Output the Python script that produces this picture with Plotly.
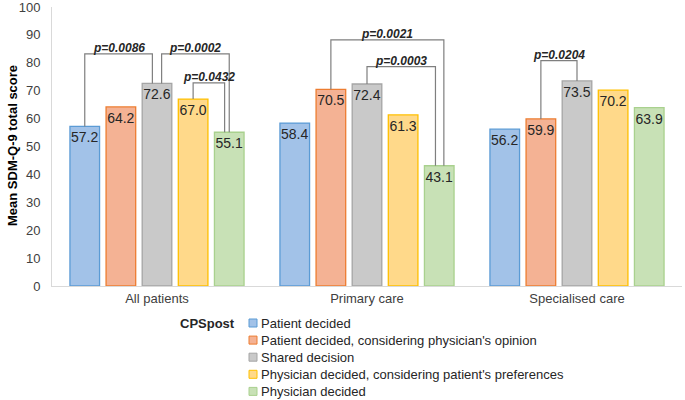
import plotly.graph_objects as go

categories = ["All patients", "Primary care", "Specialised care"]
series_names = [
    "Patient decided",
    "Patient decided, considering physician's opinion",
    "Shared decision",
    "Physician decided, considering patient's preferences",
    "Physician decided",
]
values = [
    [57.2, 58.4, 56.2],
    [64.2, 70.5, 59.9],
    [72.6, 72.4, 73.5],
    [67.0, 61.3, 70.2],
    [55.1, 43.1, 63.9],
]
y_ticks = [0, 10, 20, 30, 40, 50, 60, 70, 80, 90, 100]
# brackets: (category index, bar a, bar b, p-value label)
bracket_pairs = [
    (0, 0, 2, "p=0.0086"),
    (0, 2, 4, "p=0.0002"),
    (0, 3, 4, "p=0.0432"),
    (1, 1, 4, "p=0.0021"),
    (1, 2, 4, "p=0.0003"),
    (2, 1, 2, "p=0.0204"),
]
bracket_tops = [83.2, 83.2, 72.8, 88.2, 78.6, 80.8]

fills = ["#a2c2e8", "#f4b294", "#c9c9c9", "#ffd98a", "#c8e1b6"]
borders = ["#5b9bd5", "#ed7d31", "#a5a5a5", "#ffc000", "#a9d18e"]
leg_shift = [
    (0, -0.022), (0.022, 0.0), (0.0, -0.022),
    (0.0, 0.022), (0.0, -0.018), (0.0, 0.0),
]

BARGAP = 0.14
GROUPGAP = 0.18
N = len(series_names)
slot = (1 - BARGAP) / N

# plot area geometry (px)
PL, PR, PT, PB = 52, 682, 7, 286
PW, PH = PR - PL, PB - PT


def px_to_paper_x(px):
    return (px - PL) / PW


def px_to_paper_y(py):
    return (PB - py) / PH


def bar_x(cat, i):
    return cat - (1 - BARGAP) / 2 + slot * (i + 0.5)


fig = go.Figure()
xs = list(range(len(categories)))
for i, name in enumerate(series_names):
    fig.add_trace(go.Bar(
        x=xs, y=values[i], name=name, showlegend=False,
        marker=dict(color=fills[i], line=dict(color=borders[i], width=1.3)),
        text=[f"{v:.1f}" for v in values[i]],
        textposition="inside", insidetextanchor="end", textangle=0,
        textfont=dict(size=14, color="#262626", family="Liberation Sans, Arial"),
        constraintext="none", cliponaxis=False,
    ))

shapes = []
annotations = []
for k, (cat, a, b, label) in enumerate(bracket_pairs):
    top = bracket_tops[k]
    xa = bar_x(cat, a) + leg_shift[k][0]
    xb = bar_x(cat, b) + leg_shift[k][1]
    ya = values[a][cat]
    yb = values[b][cat]
    shapes.append(dict(
        type="path", xref="x", yref="y",
        path=f"M {xa},{ya} L {xa},{top} L {xb},{top} L {xb},{yb}",
        line=dict(color="#7f7f7f", width=1.2),
    ))
    annotations.append(dict(
        x=(xa + xb) / 2, y=top, xref="x", yref="y",
        text=f"<b><i>{label}</i></b>", showarrow=False,
        yanchor="bottom", yshift=-3,
        font=dict(size=12, color="#262626", family="Liberation Sans, Arial"),
    ))

# manual legend
row_y0, row_dy = 323, 17.1
for i, name in enumerate(series_names):
    cy = row_y0 + i * row_dy
    shapes.append(dict(
        type="rect", xref="paper", yref="paper",
        x0=px_to_paper_x(249), x1=px_to_paper_x(257),
        y0=px_to_paper_y(cy + 4), y1=px_to_paper_y(cy - 4),
        fillcolor=fills[i], line=dict(color=borders[i], width=1),
    ))
    annotations.append(dict(
        x=px_to_paper_x(259), y=px_to_paper_y(cy), xref="paper", yref="paper",
        text=name, showarrow=False, xanchor="left", yanchor="middle",
        font=dict(size=13, color="#262626", family="Liberation Sans, Arial"),
    ))

annotations.append(dict(
    x=px_to_paper_x(207), y=px_to_paper_y(323), xref="paper", yref="paper",
    text="<b>CPSpost</b>", showarrow=False, xanchor="center", yanchor="middle",
    font=dict(size=13, color="#262626", family="Liberation Sans, Arial"),
))
# y-axis title
annotations.append(dict(
    x=px_to_paper_x(12), y=px_to_paper_y(146), xref="paper", yref="paper",
    text="<b>Mean SDM-Q-9 total score</b>", showarrow=False, textangle=-90,
    xanchor="center", yanchor="middle",
    font=dict(size=13, color="#000000", family="Liberation Sans, Arial"),
))

fig.update_layout(
    width=685, height=400,
    margin=dict(l=PL, r=685 - PR, t=PT, b=400 - PB, autoexpand=False),
    paper_bgcolor="white", plot_bgcolor="white",
    barmode="group", bargap=BARGAP, bargroupgap=GROUPGAP,
    font=dict(family="Liberation Sans, Arial", size=13, color="#404040"),
    showlegend=False,
    shapes=shapes,
    annotations=annotations,
    xaxis=dict(
        tickvals=xs, ticktext=categories, range=[-0.5, 2.5],
        showline=True, linecolor="#d9d9d9", linewidth=1,
        ticks="", showgrid=False, zeroline=False, automargin=False,
        tickfont=dict(size=13, color="#404040"),
    ),
    yaxis=dict(
        range=[0, 100], tickmode="array", tickvals=y_ticks,
        showgrid=False, zeroline=False, automargin=False,
        showline=True, linecolor="#d9d9d9", linewidth=1, ticks="",
        ticklabeloverflow="allow", ticklabelstandoff=8,
        tickfont=dict(size=13, color="#404040"),
    ),
)

fig.write_html("out.html",
               config={"displayModeBar": False},
               post_script="document.body.style.margin='0';document.body.style.padding='0';")
